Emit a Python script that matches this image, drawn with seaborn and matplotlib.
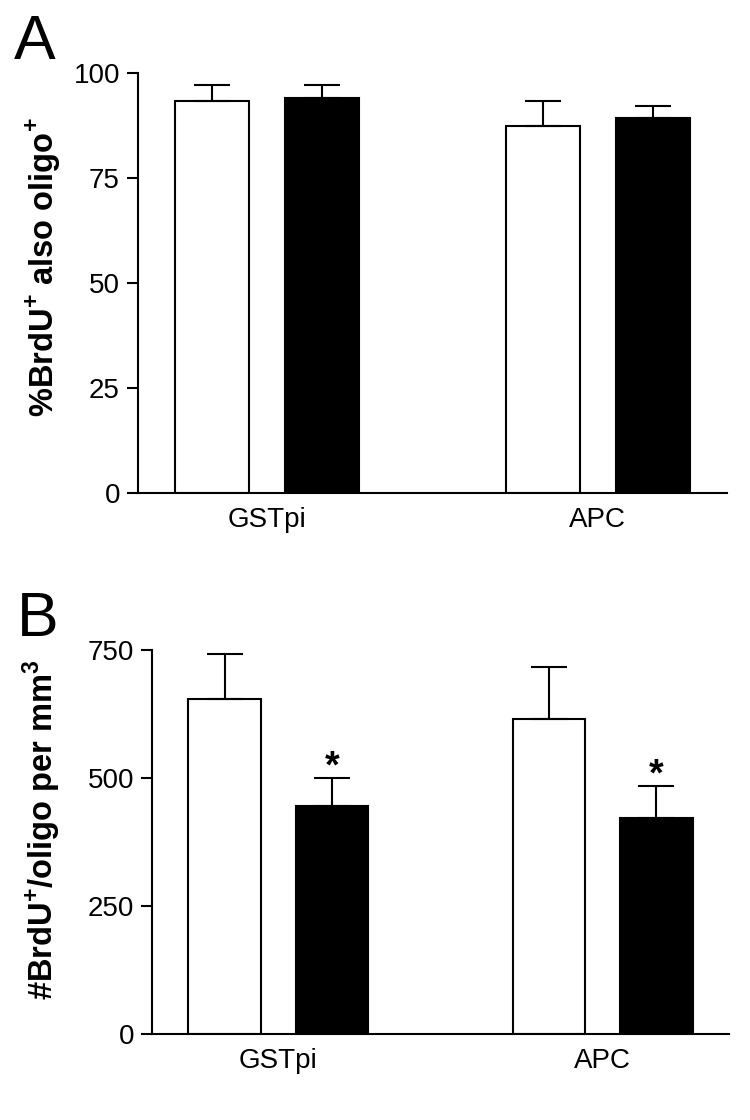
import numpy as np
import matplotlib
matplotlib.use('Agg')
import matplotlib.pyplot as plt
from matplotlib.container import BarContainer
import pandas as pd
import seaborn as sns

# 数据
groups = ['GSTpi', 'APC']
conditions = ['control', 'treated']
pct_mean = [93.3, 94.0, 87.4, 89.2]      # GSTpi ctrl, GSTpi trt, APC ctrl, APC trt
pct_err = [3.8, 3.0, 6.0, 2.8]
num_mean = [654, 445, 615, 422]
num_err = [88, 54, 101, 62]
signif = [False, True, False, True]

sns.set_style('white')
plt.rcParams['font.family'] = ['Liberation Sans', 'DejaVu Sans']
plt.rcParams['mathtext.fontset'] = 'custom'
plt.rcParams['mathtext.rm'] = 'Liberation Sans'
plt.rcParams['mathtext.bf'] = 'Liberation Sans:bold'
for key in ['text.color', 'axes.labelcolor', 'xtick.color', 'ytick.color']:
    plt.rcParams[key] = 'black'


def make_df(means):
    rows = []
    i = 0
    for g in groups:
        for c in conditions:
            rows.append({'group': g, 'cond': c, 'value': means[i]})
            i += 1
    return pd.DataFrame(rows)


def draw_panel(ax, means, errs, ylim, yticks, ylabel, label_xy, stars=None):
    df = make_df(means)
    sns.barplot(data=df, x='group', y='value', hue='cond', order=groups, hue_order=conditions,
                palette={'control': 'white', 'treated': 'black'}, edgecolor='black', linewidth=1.5,
                width=0.665, gap=0.33, errorbar=None, legend=False, ax=ax)
    bar_conts = [c for c in ax.containers if isinstance(c, BarContainer)]
    # 只画上方误差线
    for ci, cont in enumerate(bar_conts):
        for gi, bar in enumerate(cont):
            k = gi * len(conditions) + ci
            x = bar.get_x() + bar.get_width() / 2
            ax.errorbar([x], [means[k]], yerr=[[0], [errs[k]]], fmt='none', ecolor='black',
                        elinewidth=1.5, capsize=13, capthick=1.5, zorder=1)
            if stars is not None and stars[k]:
                ax.annotate('*', (x, means[k] + errs[k]), xytext=(0, -5), textcoords='offset points',
                            ha='center', va='bottom', fontsize=27, fontweight='bold')
    ax.set_xlim(-0.39, 1.39)
    ax.set_ylim(*ylim)
    ax.set_yticks(yticks)
    ax.set_xlabel('')
    ax.set_ylabel(ylabel, fontsize=23.5, fontweight='bold')
    ax.yaxis.set_label_coords(*label_xy)
    sns.despine(ax=ax)
    for s in ['left', 'bottom']:
        ax.spines[s].set_linewidth(1.5)
        ax.spines[s].set_color('black')
    ax.tick_params(axis='y', length=8, width=1.5, pad=5, labelsize=20, left=True, color='black')
    ax.tick_params(axis='x', length=0, pad=10, labelsize=20)


fig = plt.figure(figsize=(7.5, 11.2), dpi=100)
ax1 = fig.add_axes([0.184, 0.560, 0.785, 0.375])
ax2 = fig.add_axes([0.2027, 0.0768, 0.7693, 0.343])

draw_panel(ax1, pct_mean, pct_err, (0, 100), [0, 25, 50, 75, 100],
           r'%BrdU$^{\mathbf{+}}$ also oligo$^{\mathbf{+}}$', (-0.127, 0.538))
draw_panel(ax2, num_mean, num_err, (0, 750), [0, 250, 500, 750],
           r'#BrdU$^{\mathbf{+}}$/oligo per mm$^{\mathbf{3}}$', (-0.154, 0.531), stars=signif)

fig.text(0.018, 0.988, 'A', fontsize=45, va='top', ha='left')
fig.text(0.022, 0.473, 'B', fontsize=45, va='top', ha='left')

fig.savefig('out.png', dpi=100, facecolor='white')
